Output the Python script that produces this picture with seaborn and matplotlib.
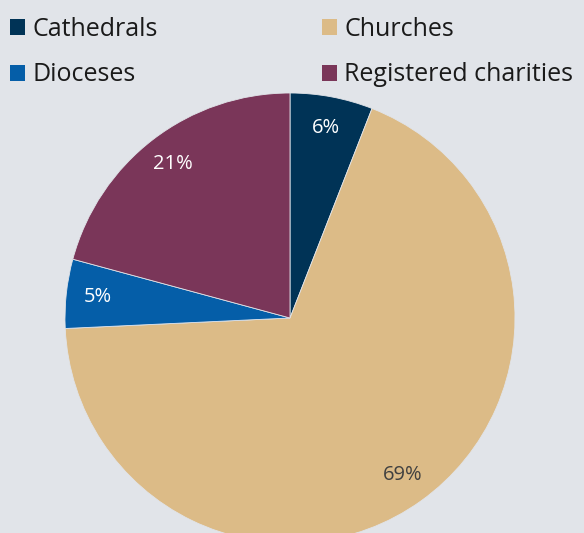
import numpy as np
import seaborn as sns
import matplotlib.pyplot as plt
from matplotlib.patches import Patch

categories = ['Cathedrals', 'Churches', 'Dioceses', 'Registered charities']
shares = [6, 69, 5, 21]
share_labels = ['6%', '69%', '5%', '21%']
colors = ['#003356', '#dcbb87', '#055ea8', '#7a3659']
label_colors = ['white', '#404040', 'white', 'white']

sns.set_style('white')
plt.rcParams['font.family'] = ['Open Sans', 'DejaVu Sans']

bg = '#e1e4e9'
fig = plt.figure(figsize=(5.84, 5.33), dpi=100, facecolor=bg)
ax = fig.add_axes([65 / 584, -10 / 533, 450 / 584, 450 / 533])
ax.set_facecolor(bg)

wedges, texts, autotexts = ax.pie(
    shares, colors=sns.color_palette(colors), startangle=90, counterclock=False,
    radius=1, autopct='', pctdistance=0.86,
    wedgeprops=dict(linewidth=0.6, edgecolor=bg))
for t, lab, c in zip(autotexts, share_labels, label_colors):
    t.set_text(lab)
    t.set_color(c)
    t.set_fontsize(14.5)
ax.set_xlim(-1, 1)
ax.set_ylim(-1, 1)
ax.set_aspect('equal')
ax.axis('off')

# legend fills column by column, so reorder to get rows Cathedrals/Churches, Dioceses/Registered
order = [0, 2, 1, 3]
handles = [Patch(facecolor=colors[i], edgecolor='none') for i in order]
fig.legend(handles, [categories[i] for i in order], ncol=2, loc='upper left',
           bbox_to_anchor=(0.0, 0.987), frameon=False, fontsize=18,
           borderaxespad=0, borderpad=0.4,
           handlelength=0.6, handleheight=0.6, handletextpad=0.3,
           columnspacing=6.55, labelspacing=0.82, labelcolor='#1a1a1a')

fig.savefig('out.png', dpi=100, facecolor=bg)
